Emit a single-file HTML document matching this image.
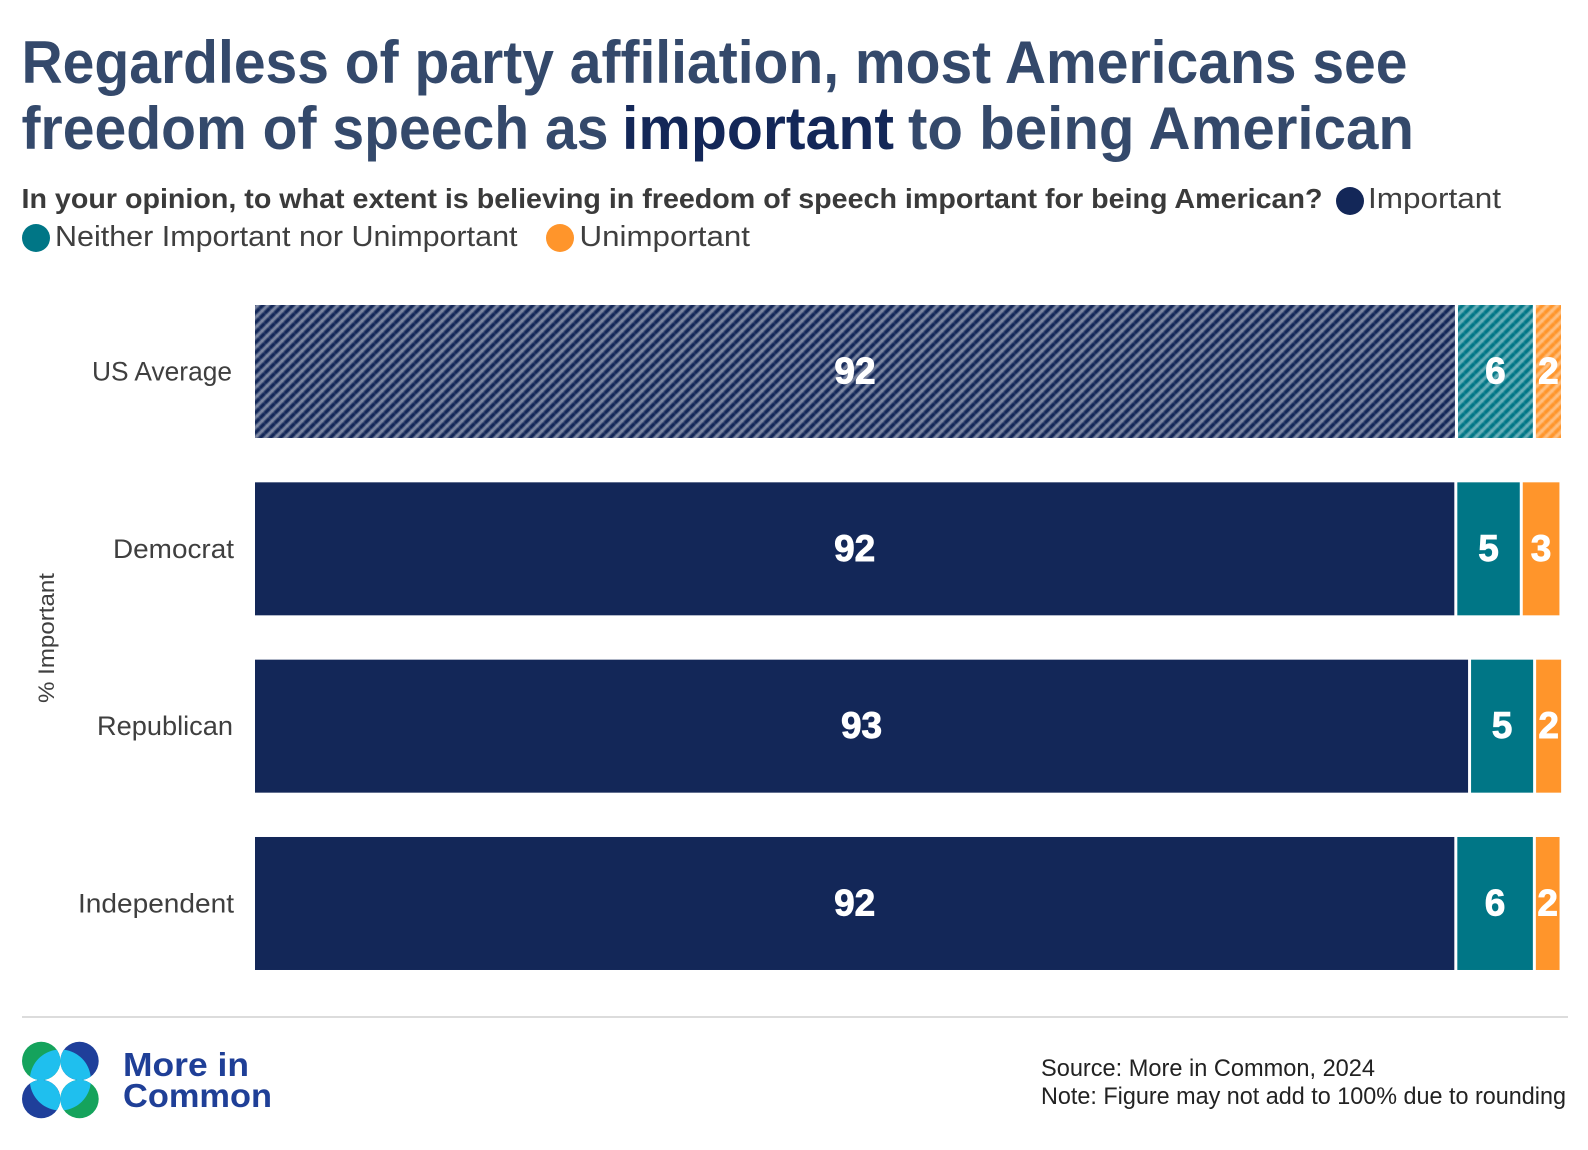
<!DOCTYPE html>
<html lang="en">
<head>
<meta charset="utf-8">
<title>Freedom of speech chart</title>
<style>
html,body{margin:0;padding:0;background:#fff;}
svg{display:block;font-family:"Liberation Sans",Arial,sans-serif;}
</style>
</head>
<body>
<svg id="chart" xmlns="http://www.w3.org/2000/svg" width="1588" height="1150" viewBox="0 0 1588 1150">
  <defs>
    <pattern id="hatch-navy" patternUnits="userSpaceOnUse" width="7.07" height="7.07" patternTransform="rotate(-45)">
      <rect width="7.07" height="7.07" fill="#132758"/><rect width="7.07" height="4.4" fill="#fff" fill-opacity="0.2"/><rect y="1" width="7.07" height="2.4" fill="#fff" fill-opacity="0.28"/><rect width="1.8" height="7.07" fill="#fff" fill-opacity="0.06"/>
    </pattern>
    <pattern id="hatch-teal" patternUnits="userSpaceOnUse" width="7.07" height="7.07" patternTransform="rotate(-45)">
      <rect width="7.07" height="7.07" fill="#007686"/><rect width="7.07" height="4.4" fill="#fff" fill-opacity="0.18"/><rect y="1" width="7.07" height="2.4" fill="#fff" fill-opacity="0.26"/><rect width="1.8" height="7.07" fill="#fff" fill-opacity="0.06"/>
    </pattern>
    <pattern id="hatch-orange" patternUnits="userSpaceOnUse" width="7.07" height="7.07" patternTransform="rotate(-45)">
      <rect width="7.07" height="7.07" fill="#ff952b"/><rect width="7.07" height="4.4" fill="#fff" fill-opacity="0.18"/><rect y="1" width="7.07" height="2.4" fill="#fff" fill-opacity="0.24"/><rect width="1.8" height="7.07" fill="#fff" fill-opacity="0.06"/>
    </pattern>
  </defs>

  <g font-size="60" font-weight="700" fill="#34496b">
    <text x="21.5" y="83" textLength="1386" lengthAdjust="spacingAndGlyphs">Regardless of party affiliation, most Americans see</text>
    <text x="21.5" y="149" textLength="587" lengthAdjust="spacingAndGlyphs">freedom of speech as</text>
    <text x="622" y="149" textLength="272" lengthAdjust="spacingAndGlyphs" fill="#132758">important</text>
    <text x="908" y="149" textLength="506" lengthAdjust="spacingAndGlyphs">to being American</text>
  </g>

  <text x="21.5" y="208" font-size="28" font-weight="700" fill="#3a3a3a" textLength="1301" lengthAdjust="spacingAndGlyphs">In your opinion, to what extent is believing in freedom of speech important for being American?</text>

  <g font-size="29" fill="#3f3f3f">
    <g>
      <circle cx="1350" cy="201" r="14" fill="#132758"/>
      <text x="1368" y="208" textLength="133" lengthAdjust="spacingAndGlyphs">Important</text>
    </g>
    <g>
      <circle cx="36" cy="238" r="14" fill="#007686"/>
      <text x="55" y="246" textLength="462.5" lengthAdjust="spacingAndGlyphs">Neither Important nor Unimportant</text>
    </g>
    <g>
      <circle cx="560" cy="238" r="14" fill="#ff952b"/>
      <text x="579.5" y="246" textLength="170.5" lengthAdjust="spacingAndGlyphs">Unimportant</text>
    </g>
  </g>

  <text transform="translate(54,638) rotate(-90)" text-anchor="middle" font-size="22" fill="#3f3f3f" textLength="130" lengthAdjust="spacingAndGlyphs">% Important</text>

  <g id="bars"></g>

  <line x1="22" y1="1017" x2="1568" y2="1017" stroke="#dcdcdc" stroke-width="2"/>

  <g>
    <g>
      <circle cx="41.2" cy="1061" r="19.2" fill="#15a35c"/>
      <circle cx="79.5" cy="1061" r="19.2" fill="#1f3f9a"/>
      <circle cx="41.2" cy="1099" r="19.2" fill="#1f3f9a"/>
      <circle cx="79.5" cy="1099" r="19.2" fill="#15a35c"/>
      <path fill="#1fbfee" d="M30 1076.6A30.5 30.5 0 0 1 56.7 1049.7A19.2 19.2 0 0 1 30 1076.6Z"/>
      <path fill="#1fbfee" d="M64 1049.7A30.5 30.5 0 0 1 90.7 1076.6A19.2 19.2 0 0 1 64 1049.7Z"/>
      <path fill="#1fbfee" d="M56.7 1110.3A30.5 30.5 0 0 1 30 1083.4A19.2 19.2 0 0 1 56.7 1110.3Z"/>
      <path fill="#1fbfee" d="M90.7 1083.4A30.5 30.5 0 0 1 64 1110.3A19.2 19.2 0 0 1 90.7 1083.4Z"/>
    </g>
    <text x="123" y="1076" font-size="33" font-weight="700" fill="#1f3f97" textLength="126" lengthAdjust="spacingAndGlyphs">More in</text>
    <text x="123" y="1107" font-size="33" font-weight="700" fill="#1f3f97" textLength="149" lengthAdjust="spacingAndGlyphs">Common</text>
  </g>

  <g font-size="24" fill="#222">
    <text x="1041" y="1076" textLength="334" lengthAdjust="spacingAndGlyphs">Source: More in Common, 2024</text>
    <text x="1041" y="1104" textLength="525" lengthAdjust="spacingAndGlyphs">Note: Figure may not add to 100% due to rounding</text>
  </g>
</svg>

<script>
var categories = ['US Average', 'Democrat', 'Republican', 'Independent'];
var importantValues = [91.9, 91.85, 92.9, 91.85];
var neitherValues = [5.95, 5.0, 4.97, 6.0];
var unimportantValues = [2.15, 3.03, 2.14, 2.04];

var SVGNS = 'http://www.w3.org/2000/svg';
var barsLayer = document.getElementById('bars');
var BAR_HEIGHT = 133;
var HALF_GAP = 1.5;

function xScale(v) { return 253.5 + v * 13.09; }
function yScale(i) { return 305 + i * 177.33; }

function segmentFill(seriesKey, rowIndex) {
  var solid = { important: '#132758', neither: '#007686', unimportant: '#ff952b' };
  var hatch = { important: 'url(#hatch-navy)', neither: 'url(#hatch-teal)', unimportant: 'url(#hatch-orange)' };
  return rowIndex === 0 ? hatch[seriesKey] : solid[seriesKey];
}

function categoryLabelWidth(name) {
  var widths = { 'US Average': 140, 'Democrat': 121, 'Republican': 136, 'Independent': 156 };
  return widths[name];
}

function categoryLabelEnd(name) {
  return name === 'US Average' ? 232 : name === 'Republican' ? 233 : 234;
}

function drawSegment(parent, seriesKey, rowIndex, start, value) {
  var x0 = xScale(start) + HALF_GAP;
  var x1 = xScale(start + value) - HALF_GAP;
  var y = yScale(rowIndex);

  var rect = document.createElementNS(SVGNS, 'rect');
  
  
  rect.setAttribute('x', x0);
  rect.setAttribute('y', y);
  rect.setAttribute('width', x1 - x0);
  rect.setAttribute('height', BAR_HEIGHT);
  rect.setAttribute('fill', segmentFill(seriesKey, rowIndex));
  parent.appendChild(rect);

  var label = document.createElementNS(SVGNS, 'text');
  
  
  label.setAttribute('x', (x0 + x1) / 2);
  label.setAttribute('y', y + BAR_HEIGHT / 2 + 12);
  label.setAttribute('text-anchor', 'middle');
  label.setAttribute('font-size', '37');
  label.setAttribute('font-weight', '700');
  label.setAttribute('fill', '#fff');
  label.setAttribute('stroke', '#fff');
  label.setAttribute('stroke-width', '0.9');
  label.textContent = String(Math.round(value));
  parent.appendChild(label);
}

categories.forEach(function (name, i) {
  var row = document.createElementNS(SVGNS, 'g');
  
  

  var cat = document.createElementNS(SVGNS, 'text');
  
  
  cat.setAttribute('x', categoryLabelEnd(name));
  cat.setAttribute('y', yScale(i) + BAR_HEIGHT / 2 + 9);
  cat.setAttribute('text-anchor', 'end');
  cat.setAttribute('font-size', '27');
  cat.setAttribute('fill', '#3f3f3f');
  cat.setAttribute('textLength', categoryLabelWidth(name));
  cat.setAttribute('lengthAdjust', 'spacingAndGlyphs');
  cat.textContent = name;
  row.appendChild(cat);

  drawSegment(row, 'important', i, 0, importantValues[i]);
  drawSegment(row, 'neither', i, importantValues[i], neitherValues[i]);
  drawSegment(row, 'unimportant', i, importantValues[i] + neitherValues[i], unimportantValues[i]);

  barsLayer.appendChild(row);
});
</script>
</body>
</html>
